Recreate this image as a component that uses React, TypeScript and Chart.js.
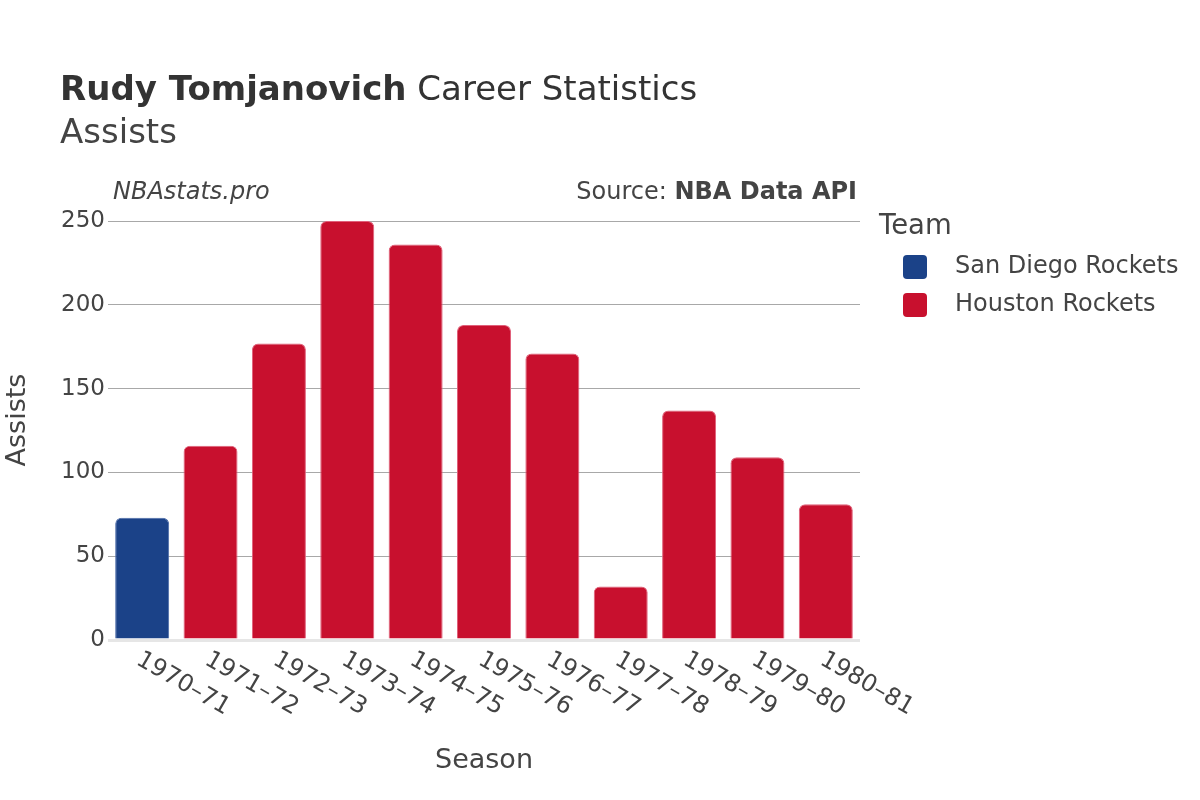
import React, { useEffect, useRef } from "react";
import { Chart, registerables } from "chart.js";

Chart.register(...registerables);

const seasons = ["1970–71", "1971–72", "1972–73", "1973–74", "1974–75", "1975–76", "1976–77", "1977–78", "1978–79", "1979–80", "1980–81"];
const sanDiegoAssists = [73, null, null, null, null, null, null, null, null, null, null];
const houstonAssists = [null, 116, 177, 250, 236, 188, 171, 32, 137, 109, 81];
const yTicks = [0, 50, 100, 150, 200, 250];

const FONT = "'DejaVu Sans', sans-serif";
const TEXT = "#444";
const BLUE = "#1b4288";
const RED = "#c8102e";

const overlayPlugin = {
  id: "overlay",
  afterDraw(chart: any) {
    const ctx = chart.ctx as CanvasRenderingContext2D;
    const xs = chart.scales.x;
    const area = chart.chartArea;
    ctx.save();
    // Title
    ctx.fillStyle = "#333";
    ctx.textBaseline = "alphabetic";
    ctx.textAlign = "left";
    ctx.font = `bold 34px ${FONT}`;
    const bold = "Rudy Tomjanovich";
    ctx.fillText(bold, 60, 100);
    const bw = ctx.measureText(bold).width;
    ctx.font = `34px ${FONT}`;
    ctx.fillText(" Career Statistics", 60 + bw, 100);
    ctx.fillStyle = TEXT;
    ctx.fillText("Assists", 60, 143);
    // Watermark / source
    ctx.font = `italic 24px ${FONT}`;
    ctx.fillStyle = TEXT;
    ctx.fillText("NBAstats.pro", 113, 199);
    ctx.textAlign = "right";
    ctx.font = `bold 24px ${FONT}`;
    const src = "NBA Data API";
    ctx.fillText(src, 857, 199);
    const sw = ctx.measureText(src).width;
    ctx.font = `24px ${FONT}`;
    ctx.fillText("Source: ", 857 - sw, 199);
    // X tick labels rotated
    ctx.font = `24px ${FONT}`;
    ctx.fillStyle = TEXT;
    ctx.textAlign = "left";
    ctx.textBaseline = "middle";
    seasons.forEach((s, i) => {
      const x = xs.getPixelForValue(i);
      ctx.save();
      ctx.translate(x - 4, area.bottom + 18);
      ctx.rotate(Math.PI / 6);
      ctx.fillText(s, 0, 0);
      ctx.restore();
    });
    // Legend
    ctx.textAlign = "left";
    ctx.textBaseline = "middle";
    ctx.font = `27.5px ${FONT}`;
    ctx.fillStyle = TEXT;
    ctx.fillText("Team", 879, 227);
    ctx.font = `24px ${FONT}`;
    chart.data.datasets.forEach((ds: any, i: number) => {
      const cy = 267 + i * 38;
      ctx.fillStyle = ds.backgroundColor;
      ctx.beginPath();
      (ctx as any).roundRect(903, cy - 12, 24, 24, 4);
      ctx.fill();
      ctx.fillStyle = TEXT;
      ctx.fillText(ds.label, 955, cy);
    });
    ctx.restore();
  },
};

export default function App() {
  const ref = useRef<HTMLCanvasElement | null>(null);
  useEffect(() => {
    document.body.style.margin = "0";
    const chart = new Chart(ref.current as HTMLCanvasElement, {
      type: "bar",
      data: {
        labels: seasons,
        datasets: [
          {
            label: "San Diego Rockets",
            data: sanDiegoAssists,
            backgroundColor: BLUE,
            borderColor: "#4a6aa8",
            borderWidth: 1,
            borderRadius: { topLeft: 6, topRight: 6, bottomLeft: 0, bottomRight: 0 },
            borderSkipped: "bottom",
            grouped: false,
            barPercentage: 0.79,
            categoryPercentage: 1,
          },
          {
            label: "Houston Rockets",
            data: houstonAssists,
            backgroundColor: RED,
            borderColor: "#e0607a",
            borderWidth: 1,
            borderRadius: { topLeft: 6, topRight: 6, bottomLeft: 0, bottomRight: 0 },
            borderSkipped: "bottom",
            grouped: false,
            barPercentage: 0.79,
            categoryPercentage: 1,
          },
        ] as any,
      },
      options: {
        responsive: false,
        animation: false,
        layout: { padding: { top: 200, right: 340, left: 0, bottom: 0 } },
        plugins: {
          legend: { display: false },
          tooltip: { enabled: false },
          title: { display: false },
        },
        scales: {
          x: {
            grid: { display: false },
            border: { display: false },
            ticks: { display: false },
            title: {
              display: true,
              text: "Season",
              color: TEXT,
              font: { family: FONT, size: 27 },
              padding: { top: 0, bottom: 23 },
            },
            afterFit: (s: any) => {
              s.height = 160;
            },
          },
          y: {
            min: 0,
            max: 262.6,
            afterBuildTicks: (s: any) => {
              s.ticks = yTicks.map((v) => ({ value: v }));
            },
            grid: {
              drawTicks: false,
              color: (c: any) => (c.tick && c.tick.value === 0 ? "#e6e6e6" : "#a8a8a8"),
              lineWidth: (c: any) => (c.tick && c.tick.value === 0 ? 3 : 1),
            },
            border: { display: false },
            ticks: {
              color: TEXT,
              font: { family: FONT, size: 23 },
              padding: 3,
            },
            title: {
              display: true,
              text: "Assists",
              color: TEXT,
              font: { family: FONT, size: 27 },
              padding: { top: 2, bottom: 0 },
            },
            afterFit: (s: any) => {
              s.width = 108;
            },
          },
        },
      },
      plugins: [overlayPlugin],
    });
    return () => chart.destroy();
  }, []);
  return <canvas ref={ref} width={1200} height={800} style={{ display: "block" }} />;
}
